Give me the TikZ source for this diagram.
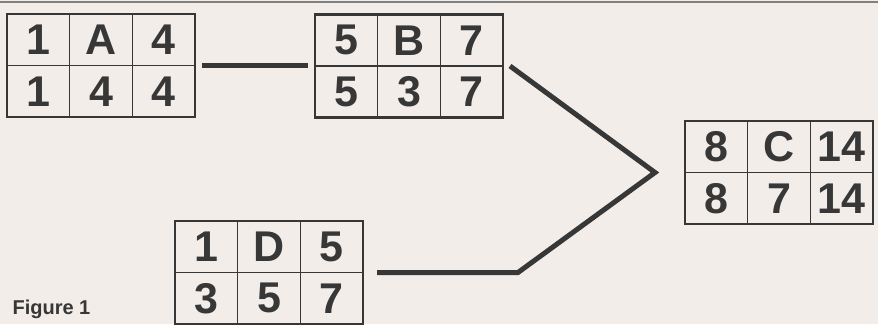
\documentclass[tikz,border=0pt]{standalone}
\usepackage{fontspec}
\setmainfont{Liberation Sans}
\usepackage{tikz}
\usetikzlibrary{positioning}
\definecolor{paper}{RGB}{243,237,233}
\definecolor{ink}{RGB}{55,55,55}
\newcommand{\cellfont}{\fontsize{43}{43}\selectfont\bfseries}

\begin{document}
\begin{tikzpicture}[x=1pt, y=-1pt,
    grid/.style={draw=ink, line width=2.2pt, minimum width=188pt, minimum height=103pt,
      inner sep=0pt, outer sep=0pt},
    cell/.style={draw=ink, line width=1.2pt, text=ink, font=\cellfont, inner sep=0pt,
      outer sep=0pt, minimum width=62.67pt, minimum height=51.5pt},
    link/.style={draw=ink, line width=5pt}]
  \useasboundingbox[fill=paper] (0,0) rectangle (878,324);
  \draw[gray, line width=1.5pt] (0,2) -- (878,2);
  \foreach \b/\pos/\ta/\tb/\tc/\ba/\bb/\bc in
    {A/{101,65.5}/1/A/4/1/4/4, B/{409,66}/5/B/7/5/3/7,
     C/{779,172.5}/8/C/14/8/7/14, D/{269,272.5}/1/D/5/3/5/7} {
    \node[grid] (box\b) at (\pos) {};
    \node[cell, anchor=north west] (\b1) at (box\b.north west) {\ta};
    \node[cell, right=0pt of \b1] (\b2) {\tb};
    \node[cell, right=0pt of \b2] (\b3) {\tc};
    \node[cell, below=0pt of \b1] (\b4) {\ba};
    \node[cell, right=0pt of \b4] (\b5) {\bb};
    \node[cell, right=0pt of \b5] (\b6) {\bc};
    \draw[ink, line width=2.2pt] (box\b.north west) rectangle (box\b.south east);
  }
  \coordinate[left=30pt of boxC.west] (tip);
  \coordinate[right=155pt of boxD.east] (bend);
  \draw[link] ([xshift=7pt]boxA.east) -- ([xshift=-7pt]boxB.west |- boxA.east);
  \draw[link, line join=miter] ([xshift=7pt]boxB.east) -- (tip) -- (bend)
    -- ([xshift=14pt]boxD.east);
  \node[anchor=base west, text=ink, font=\fontsize{20}{20}\selectfont\bfseries]
    (caption) at (9,314) {Figure 1};
\end{tikzpicture}
\end{document}
